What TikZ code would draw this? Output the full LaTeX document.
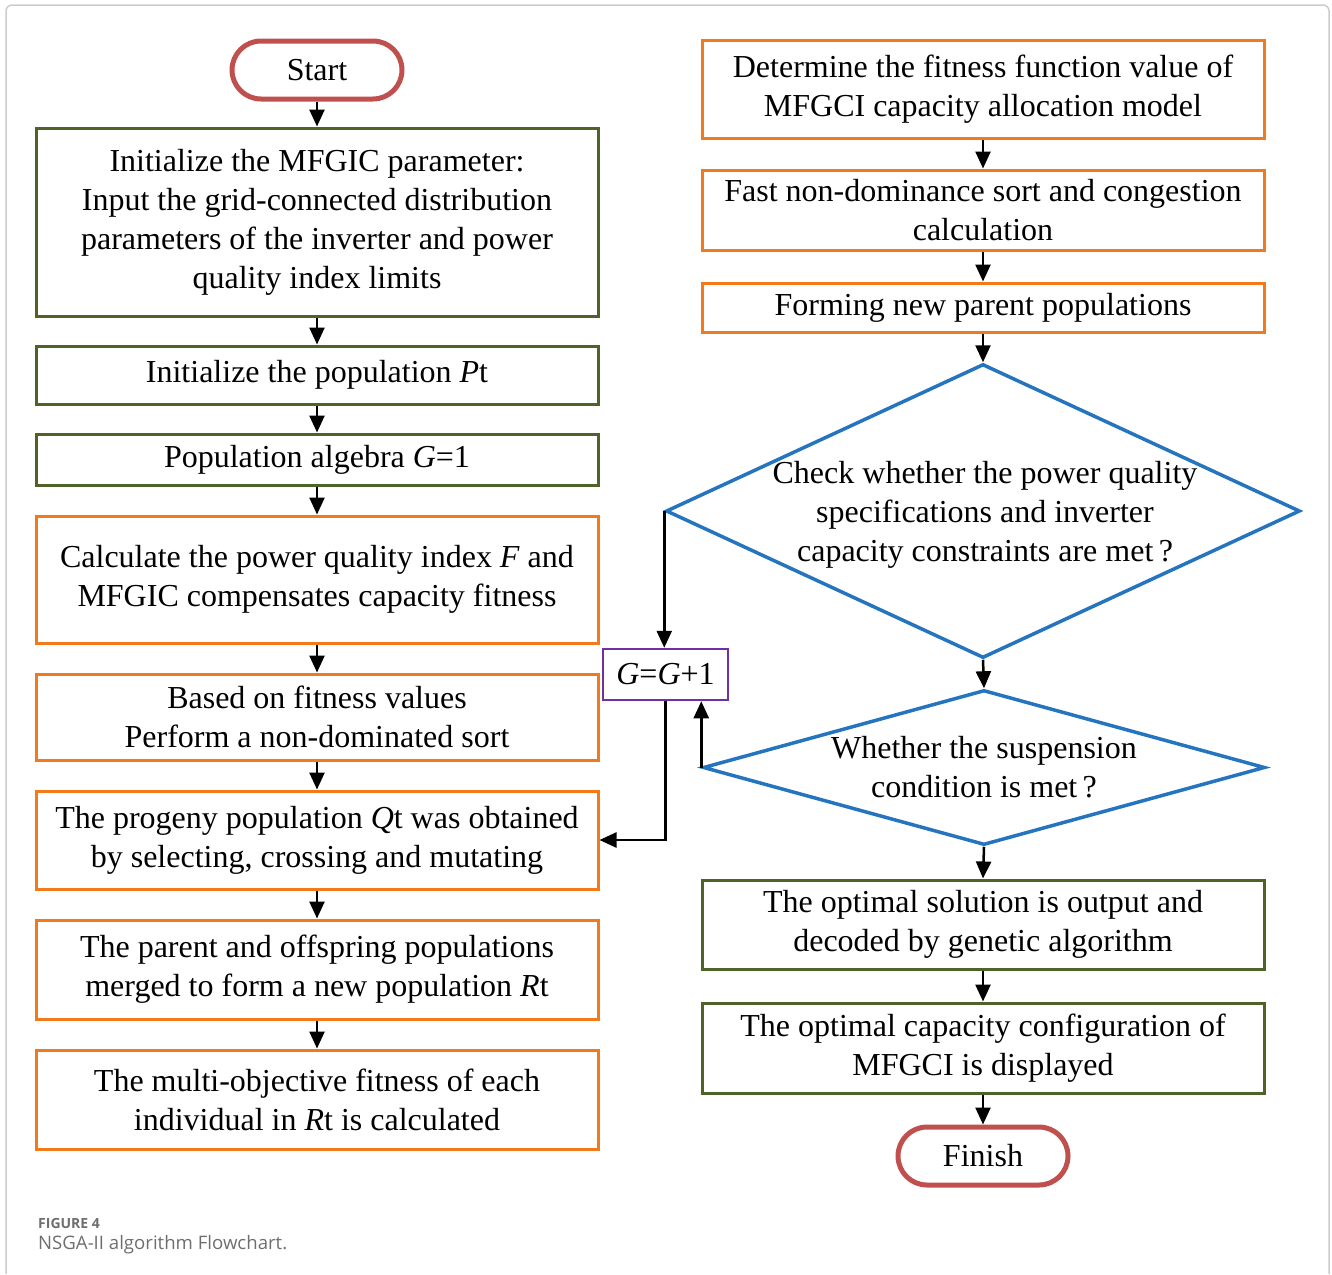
\documentclass[tikz,border=0pt]{standalone}
\usepackage{fontspec}
\setmainfont{Liberation Serif}
\newfontfamily\capfont{Open Sans}
\usetikzlibrary{shapes.geometric,arrows.meta}
\definecolor{bxgreen}{HTML}{4F6228}
\definecolor{bxorange}{HTML}{F27A1A}
\definecolor{bxred}{HTML}{C0504D}
\definecolor{bxblue}{HTML}{2474C0}
\definecolor{bxpurple}{HTML}{7030A0}
\definecolor{framegray}{HTML}{CCCCCC}
\definecolor{capgray}{HTML}{6E6E6E}
\begin{document}
\begin{tikzpicture}[x=1pt,y=-1pt,
  font=\fontsize{32}{39}\selectfont,
  box/.style={draw, line width=3pt, minimum width=562pt, align=center, inner sep=0pt},
  gbox/.style={box, draw=bxgreen},
  obox/.style={box, draw=bxorange},
  term/.style={draw=bxred, line width=5pt, rounded corners=29pt, minimum width=170pt, minimum height=58pt, inner sep=0pt},
  dia/.style={diamond, draw=bxblue, line width=3.5pt, inner sep=0pt},
  arr/.style={line width=2.5pt, -{Triangle[length=17pt,width=15pt]}}]
\useasboundingbox (0,0) rectangle (1332,1274);
\draw[framegray, line width=1.5pt, rounded corners=6pt] (6,1274) -- (6,5) -- (1329,5) -- (1329,1274);

% left column
\node[term] (start) at (317,70) {Start};
\node[gbox, minimum height=188pt] (b1) at (317,222) {Initialize the MFGIC parameter:\\Input the grid-connected distribution\\parameters of the inverter and power\\quality index limits};
\node[gbox, minimum height=58pt] (b2) at (317,375) {Initialize the population \textit{P}t};
\node[gbox, minimum height=51pt] (b3) at (317,459.5) {Population algebra \textit{G}=1};
\node[obox, minimum height=127pt] (b4) at (317,579.5) {Calculate the power quality index \textit{F} and\\MFGIC compensates capacity fitness};
\node[obox, minimum height=86pt] (b5) at (317,717) {Based on fitness values\\Perform a non-dominated sort};
\node[obox, minimum height=98pt] (b6) at (317,840) {The progeny population \textit{Q}t was obtained\\by selecting, crossing and mutating};
\node[obox, minimum height=99pt] (b7) at (317,969.5) {The parent and offspring populations\\merged to form a new population \textit{R}t};
\node[obox, minimum height=99pt] (b8) at (317,1099.5) {The multi-objective fitness of each\\individual in \textit{R}t is calculated};

% right column
\node[obox, minimum height=98pt] (r1) at (983,89) {Determine the fitness function value of\\MFGCI capacity allocation model};
\node[obox, minimum height=80pt] (r2) at (983,210) {Fast non-dominance sort and congestion\\calculation};
\node[obox, minimum height=49pt] (r3) at (983,307.5) {Forming new parent populations};
\node[dia, minimum width=634pt, minimum height=294pt] (d1) at (983,511) {};
\node[align=center, inner sep=0pt] (d1t) at (985,515) {Check whether the power quality\\specifications and inverter\\capacity constraints are met\,?};
\node[dia, minimum width=562pt, minimum height=155pt] (d2) at (984,767.5) {};
\node[align=center, inner sep=0pt] (d2t) at (984,767) {Whether the suspension\\condition is met\,?};
\node[gbox, minimum height=89pt] (r4) at (983,924.5) {The optimal solution is output and\\decoded by genetic algorithm};
\node[gbox, minimum height=90pt] (r5) at (983,1048) {The optimal capacity configuration of\\MFGCI is displayed};
\node[term] (fin) at (983,1156) {Finish};

% loop box
\node[draw=bxpurple, line width=2.5pt, minimum width=125pt, minimum height=51pt, inner sep=0pt] (g) at (665.5,674.5) {\textit{G}=\textit{G}+1};

% arrows left
\draw[arr] (start.south) -- (b1.north);
\draw[arr] (b1.south) -- (b2.north);
\draw[arr] (b2.south) -- (b3.north);
\draw[arr] (b3.south) -- (b4.north);
\draw[arr] (b4.south) -- (b5.north);
\draw[arr] (b5.south) -- (b6.north);
\draw[arr] (b6.south) -- (b7.north);
\draw[arr] (b7.south) -- (b8.north);

% arrows right
\draw[arr] (r1.south) -- (r2.north);
\draw[arr] (r2.south) -- (r3.north);
\draw[arr] (r3.south) -- (d1.north);
\draw[arr] (d1.south) -- (d2.north);
\draw[arr] (d2.south) -- (r4.north);
\draw[arr] (r4.south) -- (r5.north);
\draw[arr] (r5.south) -- (fin.north);

% loop arrows
\draw[arr] (d1.west) -- (d1.west |- g.north);
\draw[arr] (d2.west) -- (d2.west |- g.south);
\draw[arr] (g.south) |- (b6.east);

% caption
\node[anchor=base west, inner sep=0pt, text=capgray, font=\capfont\bfseries\fontsize{14}{16}\selectfont] (cap1) at (38,1228) {FIGURE 4};
\node[anchor=base west, inner sep=0pt, text=capgray, font=\capfont\fontsize{18.6}{20}\selectfont] (cap2) at (38,1249) {NSGA-II algorithm Flowchart.};
\end{tikzpicture}
\end{document}
